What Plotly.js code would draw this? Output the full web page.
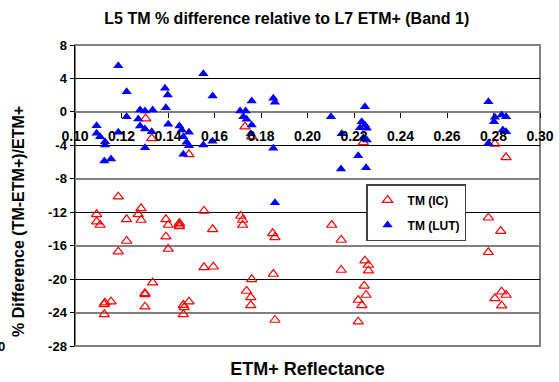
<!DOCTYPE html>
<html>
<head>
<meta charset="utf-8">
<script src="https://cdn.plot.ly/plotly-3.0.1.min.js"></script>
<style>html,body{margin:0;padding:0;background:#fff;}#chart{width:559px;height:382px;}</style>
</head>
<body>
<div id="chart"></div>
<script>
// TM (IC) series: ETM+ reflectance and % difference
var icX = [0.1186,0.1093,0.1093,0.1108,0.1222,0.1284,0.1272,0.1284,0.1391,0.1401,
           0.1449,0.1449,0.1449,0.1555,0.1592,0.1222,0.1186,0.1391,0.1401,0.1555,
           0.1595,0.1334,0.1301,0.1301,0.1129,0.1126,0.1155,0.1301,0.1126,0.1466,
           0.1470,0.1490,0.1466,0.1713,0.1721,0.1721,0.1850,0.1860,0.2104,0.2145,
           0.1760,0.1853,0.1738,0.1756,0.1756,0.1860,0.2145,0.2247,0.2262,0.2262,
           0.2244,0.2252,0.2218,0.2234,0.2218,0.2778,0.2831,0.2778,0.2835,0.2854,
           0.2806,0.2835,0.2806,0.2854,0.1304,0.1330,0.1490,0.1731,0.1760,0.2240];
var icY = [-10.14,-12.25,-13.13,-13.53,-12.85,-11.53,-12.25,-12.93,-12.85,-13.53,
           -13.30,-13.50,-13.70,-11.85,-14.04,-15.44,-16.72,-14.93,-16.40,-18.59,
           -18.52,-20.43,-21.82,-21.70,-22.82,-23.01,-22.70,-23.30,-24.21,-23.10,
           -23.37,-22.70,-24.21,-12.45,-12.93,-13.53,-14.52,-15.00,-13.53,-15.32,
           -20.02,-19.39,-21.42,-22.18,-23.13,-24.89,-18.91,-17.80,-18.31,-18.99,
           -20.82,-21.90,-22.50,-23.13,-25.09,-12.66,-14.25,-16.79,-21.51,-21.90,
           -22.30,-23.18,-3.84,-5.43,-0.80,-3.16,-5.07,-1.77,-2.97,-3.65];
// TM (LUT) series
var lutX = [0.1186,0.1552,0.1222,0.1387,0.1399,0.1592,0.1391,0.1280,0.1301,0.1334,
            0.1222,0.1272,0.1280,0.1301,0.1330,0.1401,0.1093,0.1093,0.1108,0.1129,
            0.1129,0.1186,0.1301,0.1449,0.1459,0.1490,0.1466,0.1480,0.1490,0.1466,
            0.1552,0.1126,0.1155,0.1591,0.1760,0.1853,0.1860,0.1710,0.1734,0.1724,
            0.1738,0.1760,0.1756,0.1853,0.2101,0.2147,0.2144,0.2247,0.2233,0.2247,
            0.2226,0.2255,0.2240,0.2255,0.2218,0.2252,0.2778,0.2806,0.2835,0.2854,
            0.2802,0.2840,0.2854,0.2778,0.1860];
var lutY = [5.52,4.55,2.41,2.82,2.02,1.90,0.50,0.23,0.11,0.23,
            -0.58,-0.85,-1.69,-2.05,-2.37,-1.48,-1.65,-2.56,-2.97,-3.57,
            -3.96,-2.44,-4.28,-1.69,-2.17,-2.44,-2.97,-3.64,-4.04,-5.07,
            -3.96,-5.87,-5.63,-3.50,1.30,1.63,1.15,0.11,0.11,-0.58,
            -0.89,-1.57,-2.60,-4.35,-0.58,-2.60,-6.83,0.62,-1.17,-1.57,
            -1.89,-1.96,-3.09,-3.36,-5.24,-6.68,1.22,-0.65,-0.37,-0.58,
            -1.17,-2.17,-2.37,-3.76,-10.86];
var xTickVals = [0.10,0.12,0.14,0.16,0.18,0.20,0.22,0.24,0.26,0.28,0.30];
var xTickText = ["0.10","0.12","0.14","0.16","0.18","0.20","0.22","0.24","0.26","0.28","0.30"];
var yTickVals = [8,4,0,-4,-8,-12,-16,-20,-24,-28];
var yMajorVals = [8,0,-8,-16,-24];

var FONT = "Arial, 'Liberation Sans', sans-serif";

var traces = [
  {x: icX, y: icY, name: "TM (IC)", type: "scatter", mode: "markers",
   legendgroup: "a",
   marker: {symbol: "triangle-up-open", size: 9, color: "#ff0000", line: {color: "#ff0000", width: 1.2}}},
  {x: lutX, y: lutY, name: "TM (LUT)", type: "scatter", mode: "markers",
   legendgroup: "b",
   marker: {symbol: "triangle-up", size: 9, color: "#0000ff", line: {width: 0}}},
  {x: [], y: [], xaxis: "x2", yaxis: "y3", showlegend: false, hoverinfo: "skip", type: "scatter", mode: "markers"},
  {x: [], y: [], xaxis: "x", yaxis: "y2", showlegend: false, hoverinfo: "skip", type: "scatter", mode: "markers"}
];

var yMin = -28, yMax = 8;
var zeroFrac = (0 - yMin) / (yMax - yMin);

var layout = {
  width: 559, height: 382,
  margin: {l: 75, r: 19, t: 45, b: 36},
  paper_bgcolor: "#ffffff", plot_bgcolor: "rgba(0,0,0,0)",
  font: {family: FONT, color: "#000000"},
  showlegend: true,
  title: {text: "<b>L5 TM % difference relative to L7 ETM+ (Band 1)</b>",
          font: {family: FONT, size: 16, color: "#000", weight: "bold"},
          x: 0.513, xanchor: "center", y: 0.953, yanchor: "middle", xref: "container", yref: "container"},
  xaxis: {range: [0.10, 0.30], showgrid: false, zeroline: false, showticklabels: false,
          ticks: "", showline: false, fixedrange: true,
          title: {text: "ETM+ Reflectance", font: {family: FONT, size: 18, weight: "bold"}, standoff: 16}},
  yaxis: {range: [yMin, yMax], tickvals: yTickVals, ticktext: yTickVals.map(String),
          showgrid: true, gridcolor: "#000000", gridwidth: 1, zeroline: false,
          ticks: "outside", ticklen: 4, tickcolor: "#000", tickwidth: 1,
          showline: true, linecolor: "#000", linewidth: 1.5,
          tickfont: {family: FONT, size: 13, color: "#000", weight: "bold"}, fixedrange: true},
  yaxis2: {range: [yMin, yMax], overlaying: "y", tickvals: yMajorVals, showticklabels: false,
           ticks: "", showgrid: true, gridcolor: "#808080", gridwidth: 2, zeroline: false,
           showline: false, side: "left", fixedrange: true},
  yaxis3: {domain: [zeroFrac, 1], range: [0, 1], visible: false, anchor: "x2", fixedrange: true},
  xaxis2: {range: [0.10, 0.30], anchor: "y3", side: "bottom", tickvals: xTickVals, ticktext: xTickText,
           ticks: "outside", ticklen: 5, tickcolor: "#000", tickwidth: 1,
           showgrid: false, zeroline: false, showline: false,
           ticklabelstandoff: 6,
           tickfont: {family: FONT, size: 14, color: "#000", weight: "bold"}, fixedrange: true},
  legend: {x: 0.626, y: 0.538, xanchor: "left", yanchor: "top",
           bgcolor: "#ffffff", bordercolor: "#404040", borderwidth: 1.5,
           font: {family: FONT, size: 12, color: "#000", weight: "bold"},
           traceorder: "grouped", tracegroupgap: 6, itemwidth: 30},
  shapes: [
    {type: "rect", xref: "paper", yref: "paper", x0: 0, x1: 1, y0: 0, y1: 1,
     line: {color: "#808080", width: 2}, fillcolor: "rgba(0,0,0,0)", layer: "below"}
  ],
  annotations: [
    {text: "% Difference (TM-ETM+)/ETM+", xref: "paper", yref: "paper",
     x: (18 - 75) / 465, y: (346 - 222) / 301, textangle: -90, showarrow: false,
     xanchor: "center", yanchor: "middle", font: {family: FONT, size: 16, color: "#000", weight: "bold"}},
    {text: "0", xref: "paper", yref: "paper", x: (1 - 75) / 465, y: 0,
     showarrow: false, xanchor: "center", yanchor: "middle", font: {family: FONT, size: 13, color: "#000", weight: "bold"}}
  ]
};

Plotly.newPlot("chart", traces, layout, {staticPlot: true, displayModeBar: false});
</script>
</body>
</html>
